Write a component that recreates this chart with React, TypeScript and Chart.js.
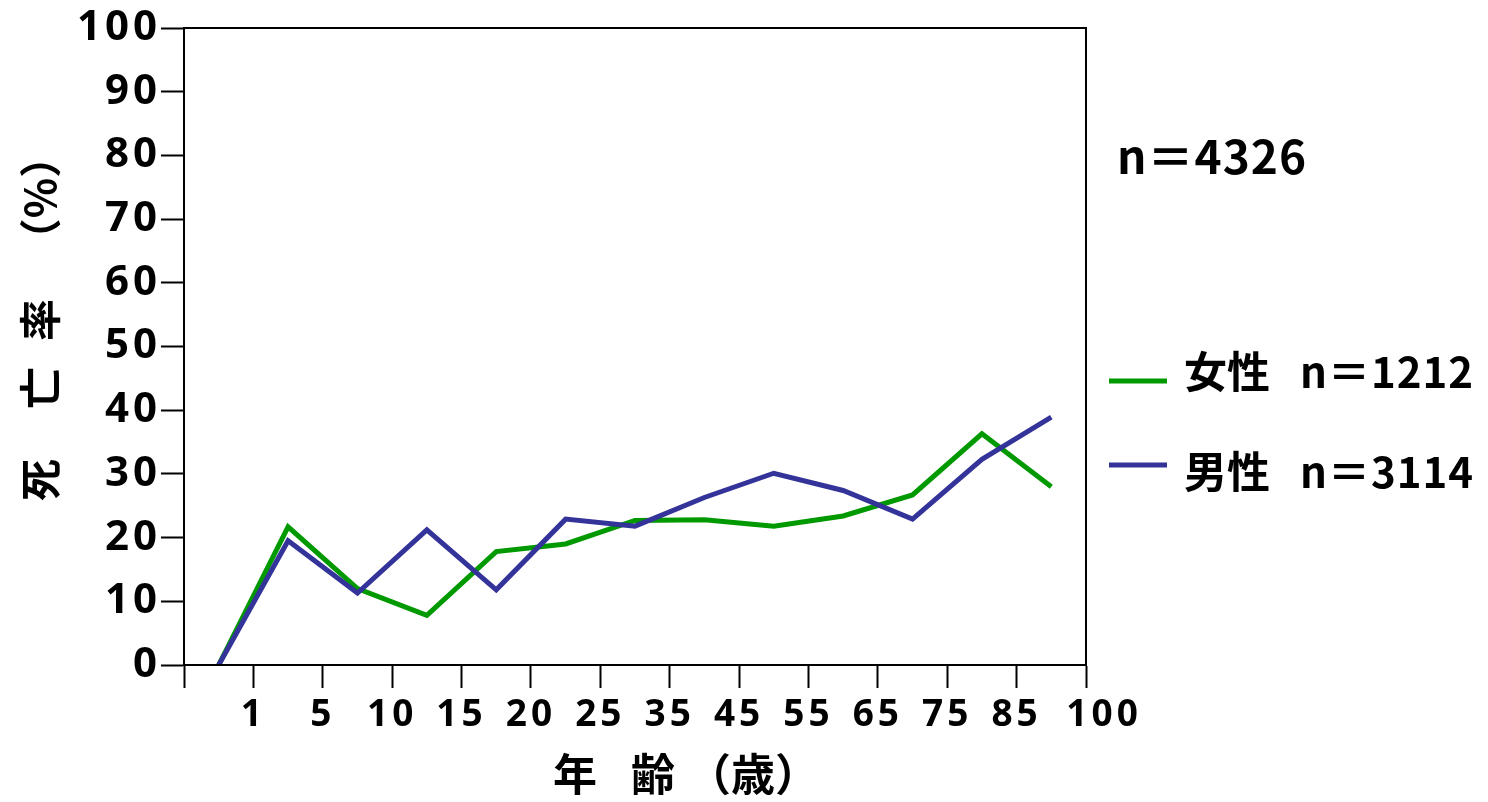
import React, { useEffect, useRef } from "react";
import { Chart, registerables } from "chart.js";

Chart.register(...registerables);

// Age-group boundary tick labels (14 boundaries, 13 age groups)
const ageTickLabels = ["", "1", "5", "10", "15", "20", "25", "35", "45", "55", "65", "75", "85", "\u2002 100"];
// Mortality (%) per age group
const femaleValues = [0, 21.7, 12.0, 7.8, 17.8, 19.0, 22.7, 22.8, 21.8, 23.4, 26.7, 36.3, 28.0];
const maleValues = [0, 19.5, 11.3, 21.2, 11.8, 22.9, 21.8, 26.3, 30.1, 27.4, 22.9, 32.3, 38.9];
const seriesNames = ["女性", "男性"];
const seriesCounts = ["n＝1212", "n＝3114"];
const seriesColors = ["#009900", "#333399"];
const totalLabel = "n＝4326";
const yTitleParts = ["死", "亡", "率", "（%）"];
const xTitleParts = ["年", "齢", "（歳）"];

const LATIN = "'Noto Sans', 'Noto Sans CJK JP', sans-serif";
const CJK = "'Noto Sans CJK JP', 'Noto Sans', sans-serif";

const decor = {
  id: "decor",
  beforeDraw(chart: any) {
    // wider tracking for the axis tick numbers
    (chart.ctx as any).letterSpacing = "4px";
  },
  afterDraw(chart: any) {
    const { ctx, chartArea } = chart;
    ctx.save();
    (ctx as any).letterSpacing = "0px";
    // plot box
    ctx.strokeStyle = "#000";
    ctx.lineWidth = 2;
    ctx.strokeRect(chartArea.left, chartArea.top, chartArea.right - chartArea.left, chartArea.bottom - chartArea.top);

    ctx.fillStyle = "#000";
    // y title (rotated)
    ctx.font = `bold 42px ${CJK}`;
    ctx.textAlign = "center";
    ctx.textBaseline = "middle";
    const yCenters = [480, 388, 320, 198];
    yTitleParts.forEach((t, i) => {
      ctx.save();
      ctx.translate(40, yCenters[i]);
      ctx.rotate(-Math.PI / 2);
      ctx.fillText(t, 0, 0);
      ctx.restore();
    });
    // x title
    ctx.font = `bold 44px ${CJK}`;
    const xCenters = [575, 653, 753];
    xTitleParts.forEach((t, i) => ctx.fillText(t, xCenters[i], 774));

    // total n
    ctx.textAlign = "left";
    (ctx as any).letterSpacing = "1px";
    ctx.font = `bold 46px ${CJK}`;
    ctx.fillText(totalLabel, 1117, 157);

    // legend
    const rows = [
      { ly: 381, ty: 372 },
      { ly: 465, ty: 472 },
    ];
    rows.forEach((r, i) => {
      ctx.strokeStyle = seriesColors[i];
      ctx.lineWidth = 5;
      ctx.beginPath();
      ctx.moveTo(1109, r.ly);
      ctx.lineTo(1167, r.ly);
      ctx.stroke();
      ctx.fillStyle = "#000";
      (ctx as any).letterSpacing = "0px";
      ctx.font = `bold 43px ${CJK}`;
      ctx.fillText(seriesNames[i], 1184, r.ty);
      (ctx as any).letterSpacing = "1px";
      ctx.font = `bold 42px ${CJK}`;
      ctx.fillText(seriesCounts[i], 1300, r.ty);
    });
    ctx.restore();
  },
};

export default function App() {
  const ref = useRef<HTMLCanvasElement>(null);
  useEffect(() => {
    document.body.style.margin = "0";
    const canvas = ref.current!;
    const chart = new Chart(canvas, {
      type: "line",
      data: {
        datasets: [
          {
            label: seriesNames[0],
            data: femaleValues.map((v, i) => ({ x: i + 0.5, y: v })),
            borderColor: seriesColors[0],
            backgroundColor: seriesColors[0],
            borderWidth: 5,
            pointRadius: 0,
            tension: 0,
            borderJoinStyle: "miter",
            order: 1,
          },
          {
            label: seriesNames[1],
            data: maleValues.map((v, i) => ({ x: i + 0.5, y: v })),
            borderColor: seriesColors[1],
            backgroundColor: seriesColors[1],
            borderWidth: 5,
            pointRadius: 0,
            tension: 0,
            borderJoinStyle: "miter",
            order: 0,
          },
        ],
      },
      options: {
        animation: false,
        responsive: false,
        devicePixelRatio: 1,
        layout: { padding: { left: 0, top: 28, right: 402, bottom: 0 } },
        plugins: { legend: { display: false }, tooltip: { enabled: false } },
        scales: {
          x: {
            type: "linear",
            min: 0,
            max: 13,
            afterFit: (s: any) => {
              s.height = 137;
            },
            afterBuildTicks: (s: any) => {
              s.ticks = ageTickLabels.map((_, i) => ({ value: i }));
            },
            ticks: {
              autoSkip: false,
              maxRotation: 0,
              padding: 5,
              color: "#000",
              font: { family: LATIN, weight: "bold", size: 37 },
              callback: (v: any) => ageTickLabels[Math.round(Number(v))] ?? "",
            },
            grid: {
              drawOnChartArea: false,
              drawTicks: true,
              tickLength: 23,
              tickWidth: 2,
              tickColor: "#000",
            },
            border: { display: true, color: "#000", width: 2 },
          },
          y: {
            min: 0,
            max: 100,
            afterFit: (s: any) => {
              s.width = 184;
            },
            ticks: {
              stepSize: 10,
              padding: 0,
              color: "#000",
              font: { family: LATIN, weight: "bold", size: 42 },
            },
            grid: {
              drawOnChartArea: false,
              drawTicks: true,
              tickLength: 23,
              tickWidth: 2,
              tickColor: "#000",
            },
            border: { display: true, color: "#000", width: 2 },
          },
        },
      },
      plugins: [decor],
    } as any);
    return () => chart.destroy();
  }, []);
  return (
    <div style={{ position: "fixed", left: 0, top: 0, width: 1488, height: 802, background: "#fff" }}>
      <canvas ref={ref} width={1488} height={802} style={{ display: "block", width: 1488, height: 802 }} />
    </div>
  );
}
